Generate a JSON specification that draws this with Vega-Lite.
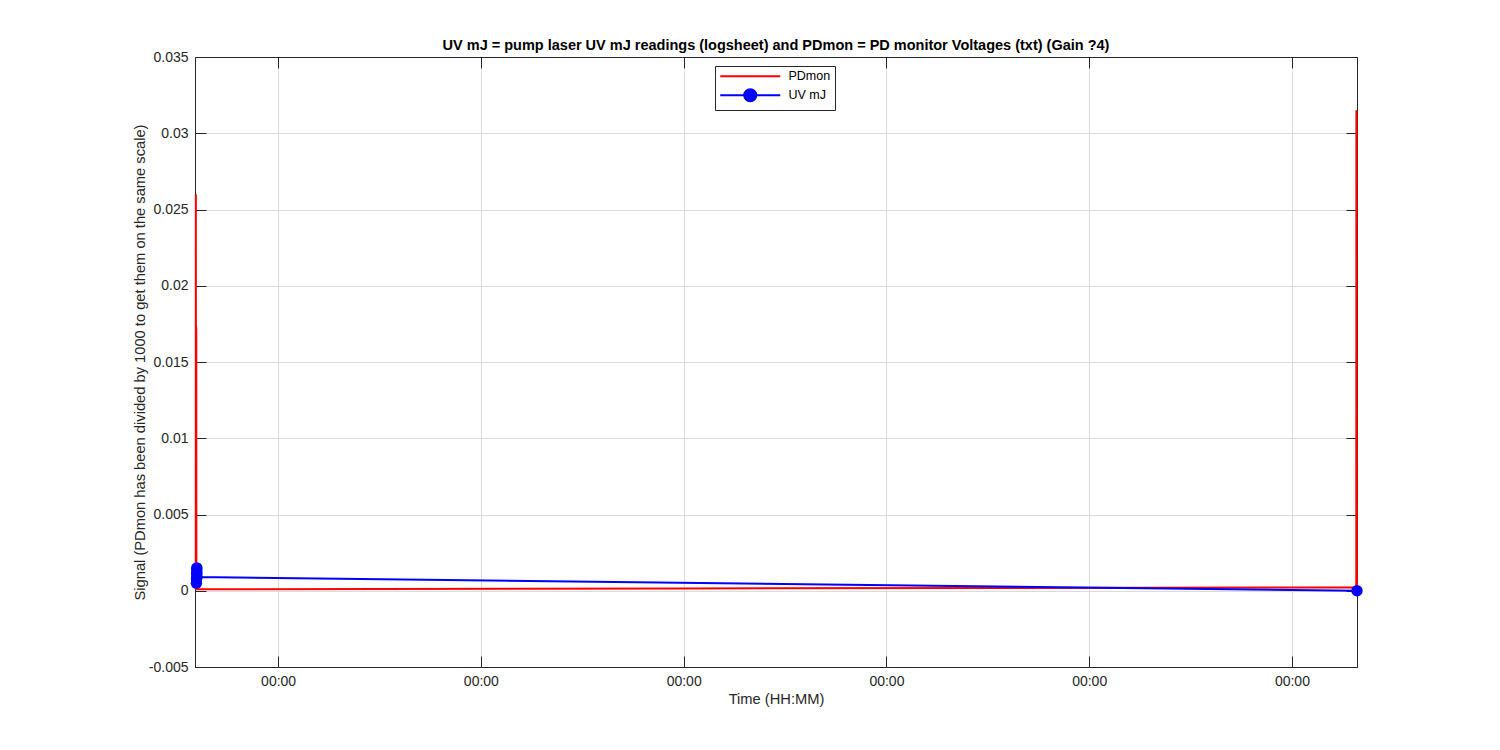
{
  "$schema": "https://vega.github.io/schema/vega-lite/v6.json",
  "width": 1162,
  "height": 610,
  "autosize": {"type": "none"},
  "padding": {"left": 195, "top": 57, "right": 143, "bottom": 83},
  "background": "white",
  "config": {
    "font": "Liberation Sans",
    "view": {"stroke": "#262626", "strokeWidth": 1},
    "axis": {
      "domainColor": "#262626",
      "tickColor": "#262626",
      "labelColor": "#262626",
      "titleColor": "#262626",
      "labelFont": "Liberation Sans",
      "titleFont": "Liberation Sans",
      "labelFontSize": 14,
      "titleFontSize": 14.7,
      "titleFontWeight": "normal",
      "gridColor": "#dcdcdc",
      "gridWidth": 1,
      "tickSize": -11,
      "tickWidth": 1,
      "labelPadding": 18
    },
    "title": {"font": "Liberation Sans", "fontSize": 14.5, "fontWeight": "bold", "color": "#000000", "offset": -3}
  },
  "title": "UV mJ = pump laser UV mJ readings (logsheet) and PDmon = PD monitor Voltages (txt) (Gain ?4)",
  "datasets": {
    "pd": [
      {"t": 0.5935, "v": 0.0001, "s": "PDmon"},
      {"t": 0.5942, "v": 0.026, "s": "PDmon"},
      {"t": 0.5948, "v": 0.0001, "s": "PDmon"},
      {"t": 0.5953, "v": 0.0174, "s": "PDmon"},
      {"t": 0.5958, "v": 0.0001, "s": "PDmon"},
      {"t": 0.5963, "v": 0.0172, "s": "PDmon"},
      {"t": 0.5968, "v": 0.0001, "s": "PDmon"},
      {"t": 1.5, "v": 0.00012, "s": "PDmon"},
      {"t": 3.0, "v": 0.00015, "s": "PDmon"},
      {"t": 4.5, "v": 0.00018, "s": "PDmon"},
      {"t": 6.3175, "v": 0.00022, "s": "PDmon"},
      {"t": 6.318, "v": 0.0315, "s": "PDmon"},
      {"t": 6.3185, "v": 0.00022, "s": "PDmon"},
      {"t": 6.319, "v": 0.0312, "s": "PDmon"},
      {"t": 6.3195, "v": 0.00022, "s": "PDmon"},
      {"t": 6.3200, "v": 0.0118, "s": "PDmon"},
      {"t": 6.3205, "v": 0.00022, "s": "PDmon"}
    ],
    "uv": [
      {"t": 0.5970, "v": 0.0005, "s": "UV mJ"},
      {"t": 0.5975, "v": 0.0008, "s": "UV mJ"},
      {"t": 0.5980, "v": 0.0011, "s": "UV mJ"},
      {"t": 0.5985, "v": 0.0014, "s": "UV mJ"},
      {"t": 0.5990, "v": 0.0015, "s": "UV mJ"},
      {"t": 0.5995, "v": 0.0012, "s": "UV mJ"},
      {"t": 0.6000, "v": 0.0009, "s": "UV mJ"},
      {"t": 6.3210, "v": 0.0, "s": "UV mJ"}
    ]
  },
  "resolve": {"axis": {"x": "independent", "y": "independent"}},
  "layer": [
    {
      "data": {"name": "pd"},
      "mark": {"type": "line", "strokeWidth": 2, "clip": false},
      "encoding": {
        "x": {
          "field": "t", "type": "quantitative",
          "scale": {"domain": [0.59, 6.321], "nice": false, "zero": false},
          "axis": {"orient": "bottom", "values": [1, 2, 3, 4, 5, 6], "labelExpr": "'00:00'", "title": "Time (HH:MM)", "titlePadding": 3, "grid": true}
        },
        "y": {
          "field": "v", "type": "quantitative",
          "scale": {"domain": [-0.005, 0.035], "nice": false, "zero": false},
          "axis": {"orient": "left", "values": [-0.005, 0, 0.005, 0.01, 0.015, 0.02, 0.025, 0.03, 0.035], "labelExpr": "'' + datum.value", "title": "Signal (PDmon has been divided by 1000 to get them on the same scale)", "titlePadding": 1, "grid": true}
        },
        "color": {
          "field": "s", "type": "nominal",
          "scale": {"domain": ["PDmon", "UV mJ"], "range": ["#ff0000", "#0000ff"]},
          "legend": {
            "orient": "none", "legendX": 520, "legendY": 9, "title": null,
            "strokeColor": "#262626", "fillColor": "white", "padding": 4,
            "symbolSize": 100, "symbolOffset": 25, "symbolStrokeWidth": 2,
            "labelFontSize": 12.5, "labelOffset": 32, "rowPadding": 2, "labelColor": "#000000",
            "encode": {
              "symbols": {
                "update": {
                  "shape": {"signal": "datum.value === 'UV mJ' ? 'M-6,0L6,0M-1.2,0A1.2,1.2,0,1,1,1.2,0A1.2,1.2,0,1,1,-1.2,0Z' : 'M-6,0L6,0'"},
                  "fill": {"signal": "datum.value === 'UV mJ' ? '#0000ff' : 'transparent'"},
                  "stroke": {"signal": "datum.value === 'UV mJ' ? '#0000ff' : '#ff0000'"},
                  "strokeWidth": {"value": 2}
                }
              }
            }
          }
        }
      }
    },
    {
      "data": {"name": "uv"},
      "mark": {"type": "line", "strokeWidth": 2, "clip": false, "point": {"filled": true, "size": 130, "color": "#0000ff"}},
      "encoding": {
        "x": {
          "field": "t", "type": "quantitative",
          "scale": {"domain": [0.59, 6.321], "nice": false, "zero": false},
          "axis": {"orient": "top", "values": [1, 2, 3, 4, 5, 6], "labels": false, "title": null, "grid": false}
        },
        "y": {
          "field": "v", "type": "quantitative",
          "scale": {"domain": [-0.005, 0.035], "nice": false, "zero": false},
          "axis": {"orient": "right", "values": [-0.005, 0, 0.005, 0.01, 0.015, 0.02, 0.025, 0.03, 0.035], "labels": false, "title": null, "grid": false}
        },
        "color": {"field": "s", "type": "nominal"}
      }
    }
  ]
}
